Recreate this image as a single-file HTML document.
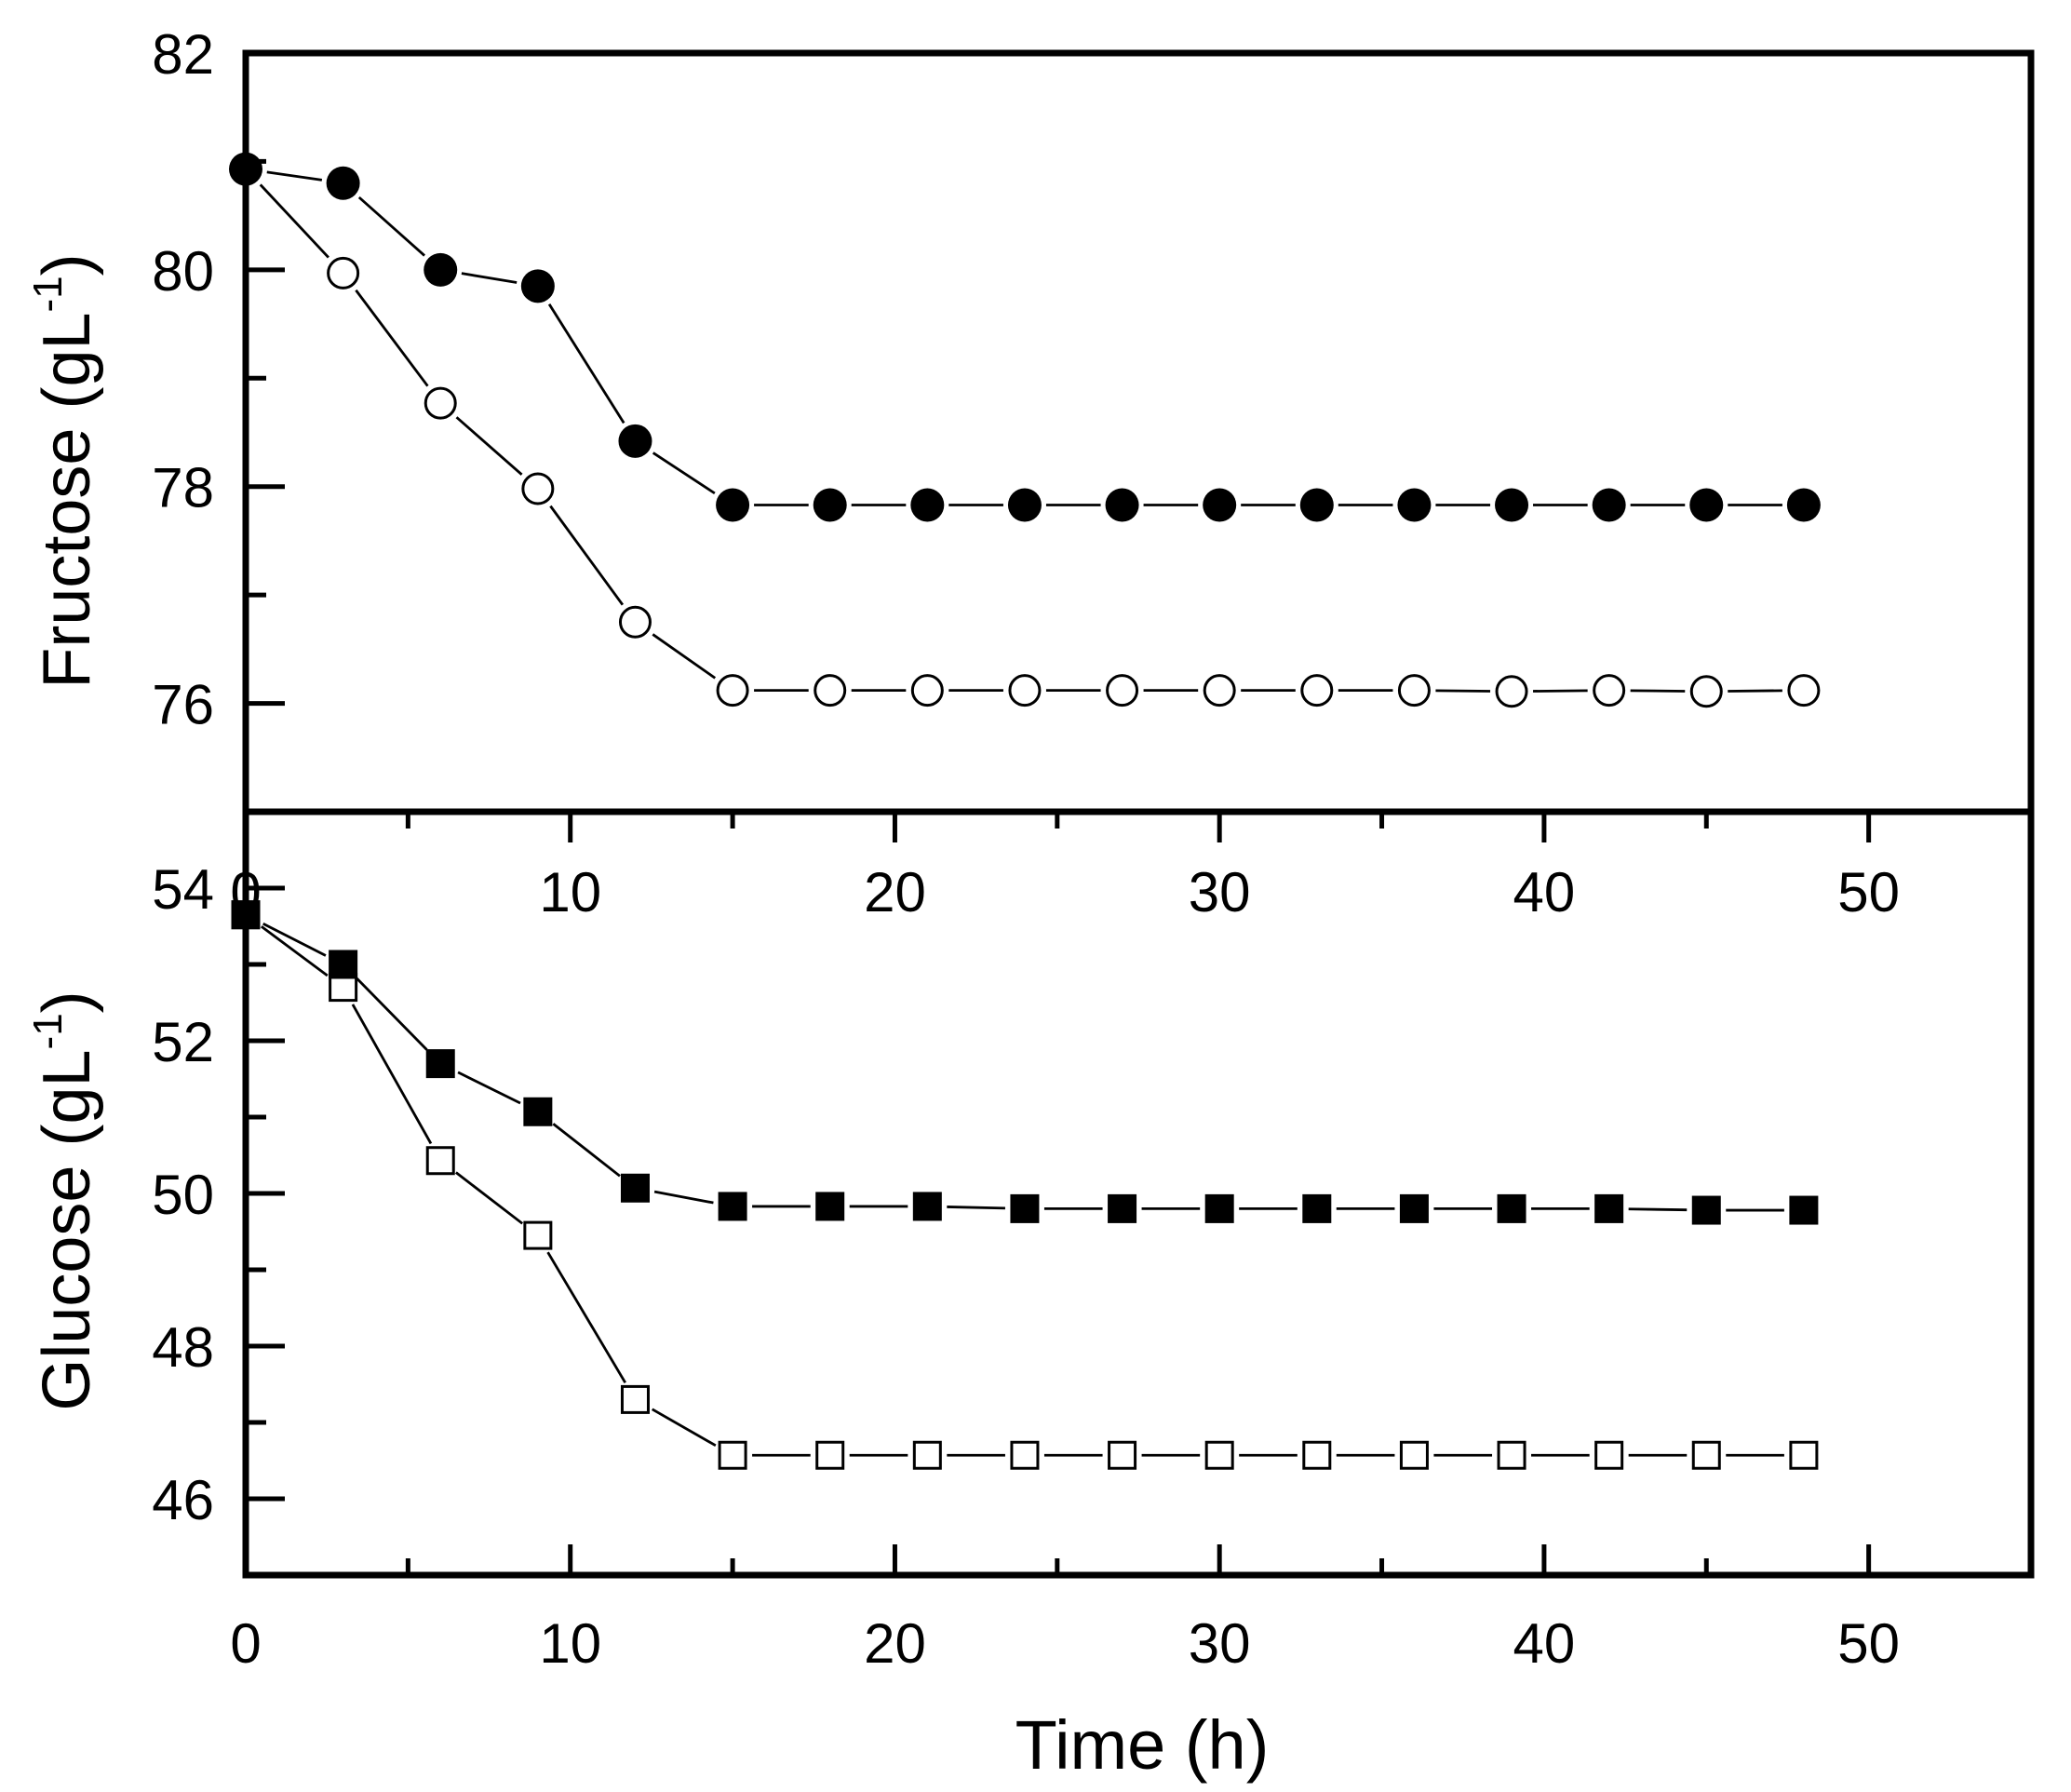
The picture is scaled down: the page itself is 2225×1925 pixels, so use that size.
<!DOCTYPE html>
<html><head><meta charset="utf-8"><style>
html,body{margin:0;padding:0;background:#fff;}
svg{display:block;font-family:"Liberation Sans",Arial,sans-serif;}
</style></head><body>
<svg id="chart" width="2225" height="1925" viewBox="0 0 2225 1925"></svg>
<script>
const timeHours = [0,3,6,9,12,15,18,21,24,27,30,33,36,39,42,45,48];
const fructoseFilled = [80.93,80.8,80.0,79.85,78.42,77.83,77.83,77.83,77.83,77.83,77.83,77.83,77.83,77.83,77.83,77.83,77.83];
const fructoseOpen = [80.93,79.97,78.77,77.98,76.75,76.12,76.12,76.12,76.12,76.12,76.12,76.12,76.12,76.11,76.12,76.11,76.12];
const glucoseFilled = [53.65,53.0,51.7,51.07,50.07,49.83,49.83,49.83,49.8,49.8,49.8,49.8,49.8,49.8,49.8,49.78,49.78];
const glucoseOpen = [53.65,52.7,50.43,49.45,47.3,46.57,46.57,46.57,46.57,46.57,46.57,46.57,46.57,46.57,46.57,46.57,46.57];
const xTickLabels = [0,10,20,30,40,50];
const fructoseTickLabels = [76,78,80,82];
const glucoseTickLabels = [46,48,50,52,54];

const NS="http://www.w3.org/2000/svg";
const svg=document.getElementById('chart');
const L=264,R=2182,TOP=57,MID=872,BOT=1692;
const xS=v=>L+(v-0)*(R-L)/55;
const yF=v=>TOP+(82-v)*(MID-TOP)/7;
const yG=v=>MID+(55-v)*(BOT-MID)/10;
function mk(tag,attrs,parent){const e=document.createElementNS(NS,tag);for(const k in attrs)e.setAttribute(k,attrs[k]);(parent||svg).appendChild(e);return e;}

const frame=mk('rect',{x:L,y:TOP,width:R-L,height:BOT-TOP,fill:'none',stroke:'#000','stroke-width':7});


const divider=mk('line',{x1:L,y1:MID,x2:R,y2:MID,stroke:'#000','stroke-width':7});



for(let v=5;v<55;v+=5){
  const maj=v%10===0,len=maj?33:18,x=xS(v);
  const t1=mk('line',{x1:x,y1:MID,x2:x,y2:MID+len,stroke:'#000','stroke-width':5});
  
  
  const t2=mk('line',{x1:x,y1:BOT,x2:x,y2:BOT-len,stroke:'#000','stroke-width':5});
  
  
}
xTickLabels.forEach(v=>{
  const a=mk('text',{x:xS(v),y:979,'font-size':60,'text-anchor':'middle'});a.textContent=v;
  
  
  const b=mk('text',{x:xS(v),y:1786,'font-size':60,'text-anchor':'middle'});b.textContent=v;
  
  
});
for(let v=76;v<=81;v++){
  const maj=v%2===0,len=maj?42:22;
  const t=mk('line',{x1:L,y1:yF(v),x2:L+len,y2:yF(v),stroke:'#000','stroke-width':5});
  
  
}
fructoseTickLabels.forEach(v=>{
  const t=mk('text',{x:230,y:yF(v)+22,'font-size':60,'text-anchor':'end'});t.textContent=v;
  
  
});
for(let v=46;v<=54;v++){
  const maj=v%2===0,len=maj?42:22;
  const t=mk('line',{x1:L,y1:yG(v),x2:L+len,y2:yG(v),stroke:'#000','stroke-width':5});
  
  
}
glucoseTickLabels.forEach(v=>{
  const t=mk('text',{x:230,y:yG(v)+22,'font-size':60,'text-anchor':'end'});t.textContent=v;
  
  
});

const ft=mk('text',{x:0,y:0,'font-size':72,'text-anchor':'middle',transform:'translate(96,506) rotate(-90)'});
ft.innerHTML='Fructose (gL<tspan dy="-30" font-size="44">-1</tspan><tspan dy="30">)</tspan>';


const gt=mk('text',{x:0,y:0,'font-size':72,'text-anchor':'middle',transform:'translate(96,1290) rotate(-90)'});
gt.innerHTML='Glucose (gL<tspan dy="-30" font-size="44">-1</tspan><tspan dy="30">)</tspan>';


const xt=mk('text',{x:1227,y:1900,'font-size':74,'text-anchor':'middle'});xt.textContent='Time (h)';



function series(vals,yf,shape,filled,name){
  const g=mk('g',{});
  
  
  const pts=timeHours.map((t,i)=>[xS(t),yf(vals[i])]);
  const gap=shape==='circle'?23:21;
  for(let i=0;i<pts.length-1;i++){
    const [x1,y1]=pts[i],[x2,y2]=pts[i+1];
    const d=Math.hypot(x2-x1,y2-y1);if(d<2*gap)continue;
    const ux=(x2-x1)/d,uy=(y2-y1)/d;
    mk('line',{x1:x1+ux*gap,y1:y1+uy*gap,x2:x2-ux*gap,y2:y2-uy*gap,stroke:'#000','stroke-width':2.8},g);
  }
  pts.forEach(([x,y])=>{
    let m;
    if(shape==='circle') m=mk('circle',{cx:x,cy:y,r:filled?18:16,fill:filled?'#000':'#fff',stroke:'#000','stroke-width':filled?0:3},g);
    else m=mk('rect',{x:x-(filled?15.5:14),y:y-(filled?15.5:14),width:filled?31:28,height:filled?31:28,fill:filled?'#000':'#fff',stroke:'#000','stroke-width':filled?0:3},g);
    
    
  });
}
series(fructoseOpen,yF,'circle',false,'fructose-open-series');
series(fructoseFilled,yF,'circle',true,'fructose-filled-series');
series(glucoseOpen,yG,'square',false,'glucose-open-series');
series(glucoseFilled,yG,'square',true,'glucose-filled-series');
</script>
</body></html>
